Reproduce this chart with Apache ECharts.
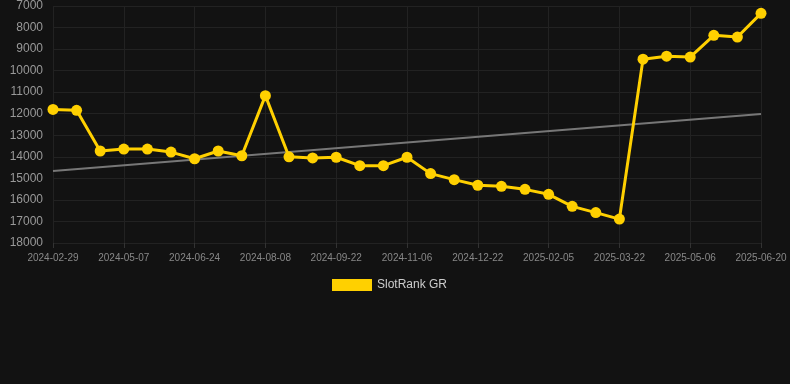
<!DOCTYPE html>
<html>
<head>
<meta charset="utf-8">
<style>
html,body{margin:0;padding:0;background:#121212;}
#chart{width:790px;height:384px;}
</style>
<script src="https://cdn.jsdelivr.net/npm/echarts@6/dist/echarts.min.js"></script>
</head>
<body>
<div id="chart"></div>
<script>
var categories = [
  '2024-02-29','2024-03-15','2024-04-08','2024-05-07','2024-05-23','2024-06-08',
  '2024-06-24','2024-07-09','2024-07-24','2024-08-08','2024-08-23','2024-09-07',
  '2024-09-22','2024-10-07','2024-10-22','2024-11-06','2024-11-21','2024-12-07',
  '2024-12-22','2025-01-06','2025-01-21','2025-02-05','2025-02-20','2025-03-07',
  '2025-03-22','2025-04-06','2025-04-21','2025-05-06','2025-05-21','2025-06-05',
  '2025-06-20'
];
var rankValues = [
  11800, 11840, 13730, 13640, 13640, 13780,
  14090, 13730, 13950, 11160, 14000, 14050,
  14020, 14410, 14410, 14020, 14780, 15060,
  15320, 15370, 15510, 15740, 16300, 16590,
  16890, 9470, 9330, 9370, 8360, 8440,
  7340
];
var trendEnds = [14660, 12010];
var seriesName = 'SlotRank GR';

var chart = echarts.init(document.getElementById('chart'), null, {renderer: 'canvas'});
chart.setOption({
  backgroundColor: '#121212',
  animation: false,
  grid: {left: 53, right: 29, top: 6, bottom: 141},
  legend: {
    top: 274,
    left: 327,
    itemWidth: 40,
    itemHeight: 12,
    data: [{name: seriesName, icon: 'rect'}],
    textStyle: {color: '#cccccc', fontSize: 12, fontFamily: 'Arial, Liberation Sans, sans-serif'}
  },
  xAxis: {
    type: 'category',
    data: categories,
    boundaryGap: false,
    axisLine: {show: false},
    axisTick: {show: true, interval: 2, lineStyle: {color: '#333'}},
    axisLabel: {interval: 2, color: '#888888', fontSize: 10, margin: 10, fontFamily: 'Arial, Liberation Sans, sans-serif'},
    splitLine: {show: true, interval: 2, lineStyle: {color: '#222222', width: 1}}
  },
  yAxis: {
    type: 'value',
    inverse: true,
    min: 7000,
    max: 18000,
    interval: 1000,
    axisLine: {show: false},
    axisTick: {show: false},
    axisLabel: {color: '#999999', fontSize: 12, margin: 10, formatter: function (v) { return String(v); }, fontFamily: 'Arial, Liberation Sans, sans-serif'},
    splitLine: {show: true, lineStyle: {color: '#222222', width: 1}}
  },
  series: [
    {
      name: seriesName,
      type: 'line',
      data: rankValues,
      color: '#FFD000',
      lineStyle: {color: '#FFD000', width: 3},
      itemStyle: {color: '#FFD000'},
      symbol: 'circle',
      symbolSize: 11,
      z: 3
    },
    {
      name: 'trend',
      type: 'line',
      data: [[categories[0], trendEnds[0]], [categories[categories.length - 1], trendEnds[1]]],
      lineStyle: {color: '#777777', width: 2},
      itemStyle: {color: '#777777'},
      symbol: 'none',
      silent: true,
      z: 2
    }
  ]
});
</script>
</body>
</html>
